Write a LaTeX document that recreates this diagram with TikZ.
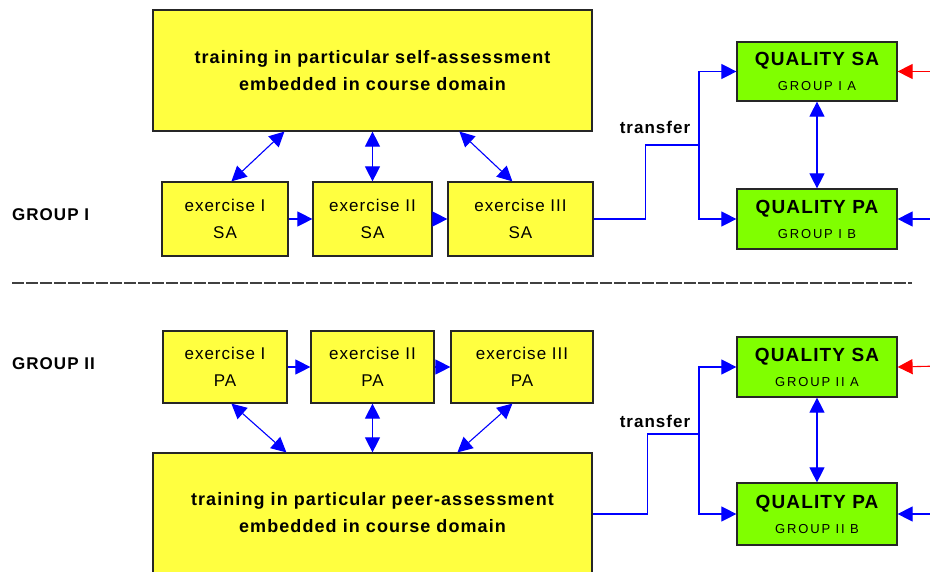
\documentclass[tikz,border=0pt]{standalone}
\usepackage{fontspec}
\setmainfont{Liberation Sans}
\newfontfamily\lsA[LetterSpace=6]{Liberation Sans}
\newfontfamily\lsB[LetterSpace=14]{Liberation Sans}
\usetikzlibrary{arrows.meta,calc}
\definecolor{boxyellow}{RGB}{255,255,64}
\definecolor{boxgreen}{RGB}{128,255,0}
\definecolor{lineblue}{RGB}{0,0,255}
\definecolor{linered}{RGB}{255,0,0}
\tikzset{
  ybox/.style={draw=black!85, line width=1.2pt, fill=boxyellow, inner sep=0pt, align=center},
  gbox/.style={draw=black!85, line width=1.2pt, fill=boxgreen, inner sep=0pt, align=center, font=\fontsize{19}{25}\selectfont},
  tip/.tip={Triangle[length=15pt,width=15pt]},
  conn/.style={draw=lineblue, line width=1.1pt},
  arr/.style={conn, -tip},
  dbl/.style={conn, tip-tip},
  redarr/.style={draw=linered, line width=1.1pt, -tip},
  bigtxt/.style={font=\lsA\bfseries\fontsize{18}{27}\selectfont},
  extxt/.style={font=\lsA\fontsize{17}{27}\selectfont},
  lbl/.style={font=\lsA\bfseries\fontsize{17}{20}\selectfont, inner sep=0pt},
}
\newcommand{\qtitle}[2]{{\lsA\bfseries #1}\\{\lsB\fontsize{13}{25}\selectfont #2}}
\begin{document}
\begin{tikzpicture}[x=1pt,y=-1pt]
\useasboundingbox (0,0) rectangle (930,571);
\clip (0,0) rectangle (930,571);
% group I
\node[ybox, bigtxt, minimum width=439pt, minimum height=121pt] (top) at (372.5,70.5)
  {training in particular self-assessment\\embedded in course domain};
\node[ybox, extxt, minimum width=126pt, minimum height=74pt] (ex1) at (225,219) {exercise I\\SA};
\node[ybox, extxt, minimum width=119pt, minimum height=74pt] (ex2) at (372.5,219) {exercise II\\SA};
\node[ybox, extxt, minimum width=145pt, minimum height=74pt] (ex3) at (520.5,219) {exercise III\\SA};
\node[gbox, minimum width=160pt, minimum height=59pt] (qsa1) at (817,71.5) {\qtitle{QUALITY SA}{GROUP I A}};
\node[gbox, minimum width=160pt, minimum height=60pt] (qpa1) at (817,219) {\qtitle{QUALITY PA}{GROUP I B}};
\node[lbl, anchor=west] (g1) at (12,215) {GROUP I};
\node[lbl] (tr1) at (655,127) {transfer};
% group II
\node[ybox, extxt, minimum width=124pt, minimum height=72pt] (pex1) at (225,367) {exercise I\\PA};
\node[ybox, extxt, minimum width=123pt, minimum height=72pt] (pex2) at (372.5,367) {exercise II\\PA};
\node[ybox, extxt, minimum width=142pt, minimum height=72pt] (pex3) at (522,367) {exercise III\\PA};
\node[ybox, bigtxt, minimum width=439pt, minimum height=120pt] (bot) at (372.5,513)
  {training in particular peer-assessment\\embedded in course domain};
\node[gbox, minimum width=160pt, minimum height=60pt] (qsa2) at (817,367) {\qtitle{QUALITY SA}{GROUP II A}};
\node[gbox, minimum width=160pt, minimum height=62pt] (qpa2) at (817,514) {\qtitle{QUALITY PA}{GROUP II B}};
\node[lbl, anchor=west] (g2) at (12,364) {GROUP II};
\node[lbl] (tr2) at (655,421) {transfer};
% separator
\coordinate (sepL) at (12,283);
\coordinate (sepR) at (912,283);
\draw[line width=1.6pt, black!75, dash pattern=on 12pt off 2pt] (sepL) -- (sepR);
% group I connectors
\draw[dbl] ($(top.south west)+(132,0)$) -- ($(ex1.north west)+(70,0)$);
\draw[dbl] (top.south) -- (ex2.north);
\draw[dbl] ($(top.south west)+(307,0)$) -- ($(ex3.north west)+(65,0)$);
\draw[arr] (ex1.east) -- (ex2.west);
\draw[arr] (ex2.east) -- (ex3.west);
\coordinate (j1) at (699,145);
\draw[conn] (ex3.east) -- ++(52,0) |- (j1);
\draw[arr] (j1) |- (qsa1.west);
\draw[arr] (j1) |- (qpa1.west);
\draw[dbl] (qsa1.south) -- (qpa1.north);
\coordinate (r1) at (940,71.5);
\coordinate (b1) at (940,219);
\draw[redarr] (r1) -- (qsa1.east);
\draw[arr] (b1) -- (qpa1.east);
% group II connectors
\draw[dbl] ($(pex1.south west)+(69,0)$) -- ($(bot.north west)+(134,0)$);
\draw[dbl] (pex2.south) -- (bot.north);
\draw[dbl] ($(pex3.south west)+(62,0)$) -- ($(bot.north west)+(305,0)$);
\draw[arr] (pex1.east) -- (pex2.west);
\draw[arr] (pex2.east) -- (pex3.west);
\coordinate (j2) at (699,434);
\draw[conn] (bot.east |- qpa2.west) -- ++(55,0) |- (j2);
\draw[arr] (j2) |- (qsa2.west);
\draw[arr] (j2) |- (qpa2.west);
\draw[dbl] (qsa2.south) -- (qpa2.north);
\coordinate (r2) at (940,366);
\coordinate (b2) at (940,514);
\draw[redarr] (r2) -- (qsa2.east);
\draw[arr] (b2) -- (qpa2.east);
\end{tikzpicture}
\end{document}
